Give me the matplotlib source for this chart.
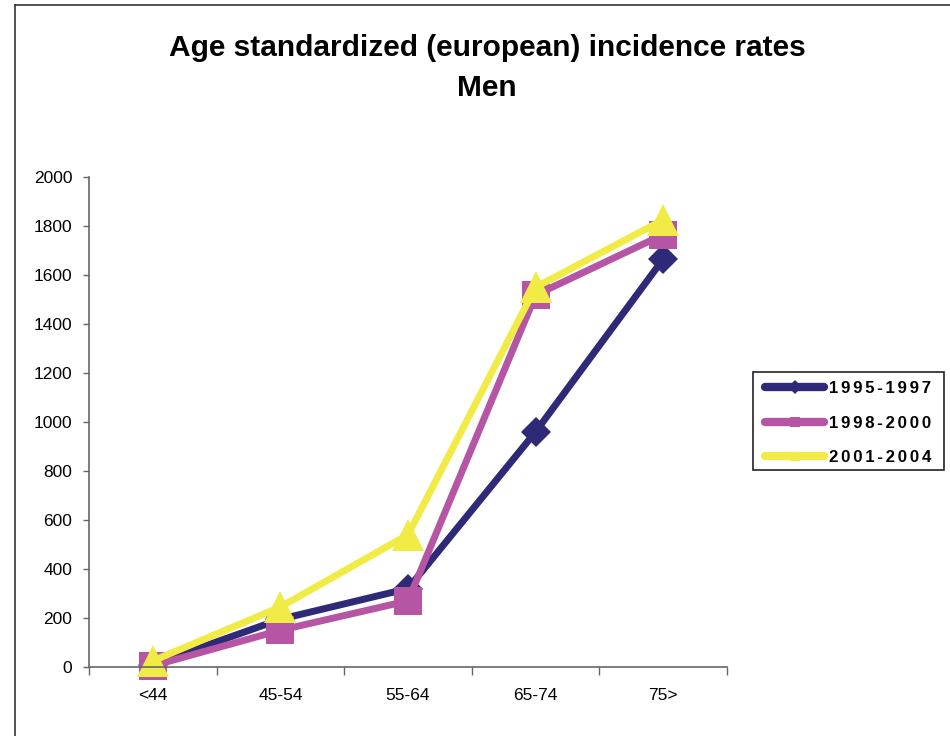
import matplotlib
matplotlib.use("Agg")
import matplotlib.pyplot as plt
from matplotlib.lines import Line2D
from matplotlib.patches import Rectangle
import numpy as np

plt.rcParams['font.family'] = ['Liberation Sans', 'DejaVu Sans']

# Age groups and incidence rates per period
age_groups = ["<44", "45-54", "55-64", "65-74", "75>"]
rates_1995_1997 = [10, 195, 320, 960, 1665]
rates_1998_2000 = [5, 150, 270, 1518, 1765]
rates_2001_2004 = [25, 245, 540, 1550, 1825]
series_labels = ["1995-1997", "1998-2000", "2001-2004"]
y_ticks = [0, 200, 400, 600, 800, 1000, 1200, 1400, 1600, 1800, 2000]

colors = ["#2E2A78", "#B555A4", "#F0EB45"]
markers = ["D", "s", "^"]
msizes = [15, 20, 23]

fig = plt.figure(figsize=(9.5, 7.36), dpi=100)
ax = fig.add_axes([89 / 950, 69 / 736, 638 / 950, 490 / 736])

x = np.arange(len(age_groups))
for vals, c, m, ms in zip([rates_1995_1997, rates_1998_2000, rates_2001_2004],
                          colors, markers, msizes):
    ax.plot(x, vals, color=c, lw=5, marker=m, markersize=ms,
            markeredgewidth=0, solid_capstyle="round", clip_on=False)

ax.set_xlim(-0.5, len(age_groups) - 0.5)
ax.set_ylim(0, 2000)
ax.set_yticks(y_ticks)
ax.set_xticks(x)
ax.set_xticklabels(age_groups)
ax.set_xticks(np.arange(-0.5, len(age_groups)), minor=True)
ax.tick_params(axis="x", which="major", length=0, pad=15, labelsize=12.5)
ax.tick_params(axis="x", which="minor", length=6, width=1, direction="out", color="#666666")
ax.tick_params(axis="y", length=4, width=1, direction="out", pad=8, labelsize=12.5,
               color="#666666")
for s in ["top", "right"]:
    ax.spines[s].set_visible(False)
for s in ["left", "bottom"]:
    ax.spines[s].set_linewidth(1.2)
    ax.spines[s].set_color("#666666")

fig.text(487 / 950, 1 - 48 / 736, "Age standardized (european) incidence rates",
         ha="center", va="center", fontsize=21.5, fontweight="bold")
fig.text(487 / 950, 1 - 88 / 736, "Men", ha="center", va="center",
         fontsize=21.5, fontweight="bold")

# Outer chart border
fig.add_artist(Line2D([15 / 950, 15 / 950], [0, 1 - 5 / 736], transform=fig.transFigure,
                      color="#333333", lw=1.2))
fig.add_artist(Line2D([15 / 950, 1], [1 - 5 / 736, 1 - 5 / 736], transform=fig.transFigure,
                      color="#333333", lw=1.2))

# Legend box
fig.add_artist(Rectangle((753 / 950, 1 - 470 / 736), 191 / 950, 98 / 736,
                         transform=fig.transFigure, fill=False, edgecolor="#222222",
                         lw=1.2, clip_on=False))
handles = [Line2D([], [], color=c, lw=6, marker=m, markersize=7, markeredgewidth=0,
                  solid_capstyle="round")
           for c, m in zip(colors, markers)]
spaced = ["\u200a\u200a".join(lbl) for lbl in series_labels]
fig.legend(handles, spaced, loc="upper left", bbox_to_anchor=(751 / 950, 1 - 367 / 736),
           frameon=False, handlelength=3.5, handletextpad=0.3, labelspacing=1.15,
           borderpad=0.35, prop={"size": 12.1, "weight": "bold"})

fig.savefig("out.png", dpi=100, facecolor="white")
